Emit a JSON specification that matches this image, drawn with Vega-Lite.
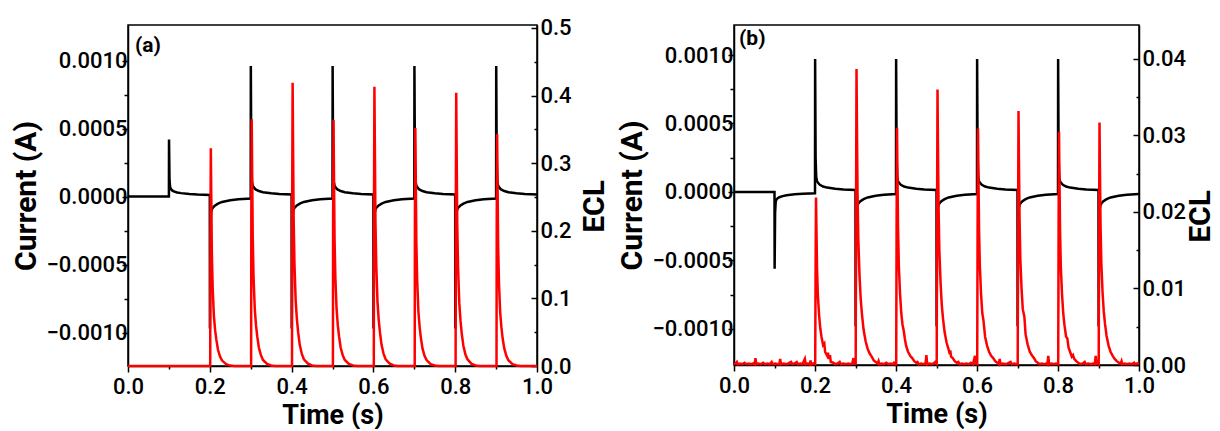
{
"$schema": "https://vega.github.io/schema/vega-lite/v6.json",
"padding": {"left": 11, "top": 16, "right": 0, "bottom": 0},
"config": {
  "font": "Roboto",
  "view": {"stroke": "black", "strokeWidth": 1.5},
  "axis": {"grid": false, "domainColor": "black", "domainWidth": 1.5, "tickColor": "black", "tickWidth": 1.5,
           "labelFont": "Roboto", "labelFontSize": 22, "labelFontWeight": 500, "labelColor": "black", "labelOverlap": false, "labelFlush": false,
           "titleFont": "Roboto", "titleFontSize": 30, "titleFontWeight": "bold", "titleColor": "black"}
},
"datasets": {
"a_cur": [
{"t":0,"v":0},{"t":0.1,"v":0},{"t":0.1003,"v":0.00042},{"t":0.1015,"v":0.00012},{"t":0.103,"v":0.00007},{"t":0.105,"v":0.000055},{"t":0.108,"v":0.000045},{"t":0.112,"v":0.000038},{"t":0.12,"v":0.00003},{"t":0.13,"v":0.000025},{"t":0.15,"v":0.000018},{"t":0.17,"v":0.000014},{"t":0.2,"v":0.000011},
{"t":0.2003,"v":-0.00097},{"t":0.2015,"v":-0.00025},{"t":0.203,"v":-0.00012},{"t":0.205,"v":-0.000095},{"t":0.208,"v":-0.00008},{"t":0.212,"v":-0.000068},{"t":0.22,"v":-0.000052},{"t":0.23,"v":-0.00004},{"t":0.25,"v":-0.000028},{"t":0.27,"v":-0.00002},{"t":0.3,"v":-0.000015},
{"t":0.3003,"v":0.00096},{"t":0.3015,"v":0.00025},{"t":0.303,"v":0.00011},{"t":0.305,"v":0.00008},{"t":0.308,"v":0.000065},{"t":0.312,"v":0.000052},{"t":0.32,"v":0.00004},{"t":0.33,"v":0.000032},{"t":0.35,"v":0.000024},{"t":0.37,"v":0.000019},{"t":0.4,"v":0.000015},
{"t":0.4003,"v":-0.00097},{"t":0.4015,"v":-0.00025},{"t":0.403,"v":-0.00012},{"t":0.405,"v":-0.000095},{"t":0.408,"v":-0.00008},{"t":0.412,"v":-0.000068},{"t":0.42,"v":-0.000052},{"t":0.43,"v":-0.00004},{"t":0.45,"v":-0.000028},{"t":0.47,"v":-0.00002},{"t":0.5,"v":-0.000015},
{"t":0.5003,"v":0.00096},{"t":0.5015,"v":0.00025},{"t":0.503,"v":0.00011},{"t":0.505,"v":0.00008},{"t":0.508,"v":0.000065},{"t":0.512,"v":0.000052},{"t":0.52,"v":0.00004},{"t":0.53,"v":0.000032},{"t":0.55,"v":0.000024},{"t":0.57,"v":0.000019},{"t":0.6,"v":0.000015},
{"t":0.6003,"v":-0.00097},{"t":0.6015,"v":-0.00025},{"t":0.603,"v":-0.00012},{"t":0.605,"v":-0.000095},{"t":0.608,"v":-0.00008},{"t":0.612,"v":-0.000068},{"t":0.62,"v":-0.000052},{"t":0.63,"v":-0.00004},{"t":0.65,"v":-0.000028},{"t":0.67,"v":-0.00002},{"t":0.7,"v":-0.000015},
{"t":0.7003,"v":0.00096},{"t":0.7015,"v":0.00025},{"t":0.703,"v":0.00011},{"t":0.705,"v":0.00008},{"t":0.708,"v":0.000065},{"t":0.712,"v":0.000052},{"t":0.72,"v":0.00004},{"t":0.73,"v":0.000032},{"t":0.75,"v":0.000024},{"t":0.77,"v":0.000019},{"t":0.8,"v":0.000015},
{"t":0.8003,"v":-0.00097},{"t":0.8015,"v":-0.00025},{"t":0.803,"v":-0.00012},{"t":0.805,"v":-0.000095},{"t":0.808,"v":-0.00008},{"t":0.812,"v":-0.000068},{"t":0.82,"v":-0.000052},{"t":0.83,"v":-0.00004},{"t":0.85,"v":-0.000028},{"t":0.87,"v":-0.00002},{"t":0.9,"v":-0.000015},
{"t":0.9003,"v":0.00096},{"t":0.9015,"v":0.00025},{"t":0.903,"v":0.00011},{"t":0.905,"v":0.00008},{"t":0.908,"v":0.000065},{"t":0.912,"v":0.000052},{"t":0.92,"v":0.00004},{"t":0.93,"v":0.000032},{"t":0.95,"v":0.000024},{"t":0.97,"v":0.000019},{"t":1.0,"v":0.000015}
],
"a_ecl": [
{"t":0,"v":0},
{"t":0.201,"v":0},{"t":0.2015,"v":0.193},{"t":0.2025,"v":0.322},{"t":0.2035,"v":0.258},{"t":0.205,"v":0.167},{"t":0.207,"v":0.116},{"t":0.21,"v":0.074},{"t":0.213,"v":0.053},{"t":0.216,"v":0.039},{"t":0.22,"v":0.024},{"t":0.225,"v":0.014},{"t":0.23,"v":0.008},{"t":0.24,"v":0.0026},{"t":0.25,"v":0.0006},{"t":0.26,"v":0},
{"t":0.301,"v":0},{"t":0.3015,"v":0.219},{"t":0.3025,"v":0.365},{"t":0.3035,"v":0.292},{"t":0.305,"v":0.19},{"t":0.307,"v":0.131},{"t":0.31,"v":0.084},{"t":0.313,"v":0.06},{"t":0.316,"v":0.044},{"t":0.32,"v":0.027},{"t":0.325,"v":0.016},{"t":0.33,"v":0.009},{"t":0.34,"v":0.003},{"t":0.35,"v":0.0007},{"t":0.36,"v":0},
{"t":0.401,"v":0},{"t":0.4015,"v":0.251},{"t":0.4025,"v":0.419},{"t":0.4035,"v":0.335},{"t":0.405,"v":0.218},{"t":0.407,"v":0.151},{"t":0.41,"v":0.096},{"t":0.413,"v":0.069},{"t":0.416,"v":0.05},{"t":0.42,"v":0.031},{"t":0.425,"v":0.018},{"t":0.43,"v":0.01},{"t":0.44,"v":0.0034},{"t":0.45,"v":0.0008},{"t":0.46,"v":0},
{"t":0.501,"v":0},{"t":0.5015,"v":0.218},{"t":0.5025,"v":0.364},{"t":0.5035,"v":0.291},{"t":0.505,"v":0.189},{"t":0.507,"v":0.131},{"t":0.51,"v":0.084},{"t":0.513,"v":0.06},{"t":0.516,"v":0.044},{"t":0.52,"v":0.027},{"t":0.525,"v":0.016},{"t":0.53,"v":0.009},{"t":0.54,"v":0.003},{"t":0.55,"v":0.0007},{"t":0.56,"v":0},
{"t":0.601,"v":0},{"t":0.6015,"v":0.248},{"t":0.6025,"v":0.413},{"t":0.6035,"v":0.33},{"t":0.605,"v":0.215},{"t":0.607,"v":0.149},{"t":0.61,"v":0.095},{"t":0.613,"v":0.068},{"t":0.616,"v":0.05},{"t":0.62,"v":0.031},{"t":0.625,"v":0.018},{"t":0.63,"v":0.01},{"t":0.64,"v":0.0033},{"t":0.65,"v":0.0008},{"t":0.66,"v":0},
{"t":0.701,"v":0},{"t":0.7015,"v":0.211},{"t":0.7025,"v":0.352},{"t":0.7035,"v":0.282},{"t":0.705,"v":0.183},{"t":0.707,"v":0.127},{"t":0.71,"v":0.081},{"t":0.713,"v":0.058},{"t":0.716,"v":0.042},{"t":0.72,"v":0.026},{"t":0.725,"v":0.015},{"t":0.73,"v":0.0088},{"t":0.74,"v":0.0028},{"t":0.75,"v":0.0007},{"t":0.76,"v":0},
{"t":0.801,"v":0},{"t":0.8015,"v":0.242},{"t":0.8025,"v":0.404},{"t":0.8035,"v":0.323},{"t":0.805,"v":0.21},{"t":0.807,"v":0.145},{"t":0.81,"v":0.093},{"t":0.813,"v":0.067},{"t":0.816,"v":0.048},{"t":0.82,"v":0.03},{"t":0.825,"v":0.017},{"t":0.83,"v":0.01},{"t":0.84,"v":0.0032},{"t":0.85,"v":0.0008},{"t":0.86,"v":0},
{"t":0.901,"v":0},{"t":0.9015,"v":0.206},{"t":0.9025,"v":0.343},{"t":0.9035,"v":0.274},{"t":0.905,"v":0.178},{"t":0.907,"v":0.123},{"t":0.91,"v":0.079},{"t":0.913,"v":0.057},{"t":0.916,"v":0.041},{"t":0.92,"v":0.026},{"t":0.925,"v":0.015},{"t":0.93,"v":0.0086},{"t":0.94,"v":0.0027},{"t":0.95,"v":0.0007},{"t":0.96,"v":0},
{"t":1.0,"v":0}
],
"b_cur": [
{"t":0,"v":0},{"t":0.1,"v":0},{"t":0.1003,"v":-0.00056},{"t":0.1015,"v":-0.00015},{"t":0.103,"v":-0.00007},{"t":0.105,"v":-0.000055},{"t":0.108,"v":-0.000045},{"t":0.112,"v":-0.000038},{"t":0.12,"v":-0.00003},{"t":0.13,"v":-0.000024},{"t":0.15,"v":-0.000017},{"t":0.17,"v":-0.000013},{"t":0.2,"v":-0.00001},
{"t":0.2003,"v":0.00097},{"t":0.2015,"v":0.00025},{"t":0.203,"v":0.00011},{"t":0.205,"v":0.00008},{"t":0.208,"v":0.000065},{"t":0.212,"v":0.000052},{"t":0.22,"v":0.00004},{"t":0.23,"v":0.000032},{"t":0.25,"v":0.000024},{"t":0.27,"v":0.000019},{"t":0.3,"v":0.000015},
{"t":0.3003,"v":-0.00098},{"t":0.3015,"v":-0.00025},{"t":0.303,"v":-0.00012},{"t":0.305,"v":-0.000095},{"t":0.308,"v":-0.00008},{"t":0.312,"v":-0.000068},{"t":0.32,"v":-0.000052},{"t":0.33,"v":-0.00004},{"t":0.35,"v":-0.000028},{"t":0.37,"v":-0.00002},{"t":0.4,"v":-0.000015},
{"t":0.4003,"v":0.00097},{"t":0.4015,"v":0.00025},{"t":0.403,"v":0.00011},{"t":0.405,"v":0.00008},{"t":0.408,"v":0.000065},{"t":0.412,"v":0.000052},{"t":0.42,"v":0.00004},{"t":0.43,"v":0.000032},{"t":0.45,"v":0.000024},{"t":0.47,"v":0.000019},{"t":0.5,"v":0.000015},
{"t":0.5003,"v":-0.00098},{"t":0.5015,"v":-0.00025},{"t":0.503,"v":-0.00012},{"t":0.505,"v":-0.000095},{"t":0.508,"v":-0.00008},{"t":0.512,"v":-0.000068},{"t":0.52,"v":-0.000052},{"t":0.53,"v":-0.00004},{"t":0.55,"v":-0.000028},{"t":0.57,"v":-0.00002},{"t":0.6,"v":-0.000015},
{"t":0.6003,"v":0.00097},{"t":0.6015,"v":0.00025},{"t":0.603,"v":0.00011},{"t":0.605,"v":0.00008},{"t":0.608,"v":0.000065},{"t":0.612,"v":0.000052},{"t":0.62,"v":0.00004},{"t":0.63,"v":0.000032},{"t":0.65,"v":0.000024},{"t":0.67,"v":0.000019},{"t":0.7,"v":0.000015},
{"t":0.7003,"v":-0.00098},{"t":0.7015,"v":-0.00025},{"t":0.703,"v":-0.00012},{"t":0.705,"v":-0.000095},{"t":0.708,"v":-0.00008},{"t":0.712,"v":-0.000068},{"t":0.72,"v":-0.000052},{"t":0.73,"v":-0.00004},{"t":0.75,"v":-0.000028},{"t":0.77,"v":-0.00002},{"t":0.8,"v":-0.000015},
{"t":0.8003,"v":0.00097},{"t":0.8015,"v":0.00025},{"t":0.803,"v":0.00011},{"t":0.805,"v":0.00008},{"t":0.808,"v":0.000065},{"t":0.812,"v":0.000052},{"t":0.82,"v":0.00004},{"t":0.83,"v":0.000032},{"t":0.85,"v":0.000024},{"t":0.87,"v":0.000019},{"t":0.9,"v":0.000015},
{"t":0.9003,"v":-0.00098},{"t":0.9015,"v":-0.00025},{"t":0.903,"v":-0.00012},{"t":0.905,"v":-0.000095},{"t":0.908,"v":-0.00008},{"t":0.912,"v":-0.000068},{"t":0.92,"v":-0.000052},{"t":0.93,"v":-0.00004},{"t":0.95,"v":-0.000028},{"t":0.97,"v":-0.00002},{"t":1.0,"v":-0.000015}
],
"b_ecl": [
{"t":0,"v":0.0001},{"t":0.004,"v":0.0002},{"t":0.007,"v":0.0004},{"t":0.009,"v":0.0001},{"t":0.015,"v":0.0002},{"t":0.02,"v":0.0001},{"t":0.026,"v":0.0003},{"t":0.03,"v":0.0001},{"t":0.037,"v":0.0002},{"t":0.042,"v":0.0001},{"t":0.048,"v":0.0002},{"t":0.051,"v":0.0001},{"t":0.053,"v":0.0009},{"t":0.055,"v":0.0001},{"t":0.06,"v":0.0002},{"t":0.066,"v":0.0001},{"t":0.072,"v":0.0003},{"t":0.077,"v":0.0001},{"t":0.083,"v":0.0002},{"t":0.088,"v":0.0001},{"t":0.093,"v":0.0004},{"t":0.096,"v":0.0001},{"t":0.102,"v":0.0002},{"t":0.108,"v":0.0001},{"t":0.112,"v":0.0001},{"t":0.114,"v":0.0008},{"t":0.116,"v":0.0001},{"t":0.122,"v":0.0002},{"t":0.128,"v":0.0001},{"t":0.134,"v":0.0002},{"t":0.141,"v":0.0004},{"t":0.144,"v":0.0001},{"t":0.149,"v":0.0002},{"t":0.155,"v":0.0004},{"t":0.158,"v":0.0001},{"t":0.164,"v":0.0002},{"t":0.169,"v":0.0001},{"t":0.175,"v":0.0008},{"t":0.177,"v":0.0001},{"t":0.182,"v":0.0002},{"t":0.187,"v":0.0001},{"t":0.189,"v":0.0006},{"t":0.191,"v":0.0001},{"t":0.196,"v":0.0002},
{"t":0.2005,"v":0.0001},{"t":0.2015,"v":0.0131},{"t":0.2025,"v":0.0219},{"t":0.2035,"v":0.018},{"t":0.205,"v":0.0127},{"t":0.207,"v":0.0092},{"t":0.21,"v":0.0066},{"t":0.213,"v":0.0048},{"t":0.216,"v":0.0037},{"t":0.22,"v":0.0026},{"t":0.223,"v":0.0028},{"t":0.225,"v":0.0017},{"t":0.228,"v":0.0014},{"t":0.23,"v":0.0012},{"t":0.232,"v":0.0016},{"t":0.234,"v":0.0008},{"t":0.237,"v":0.0013},{"t":0.239,"v":0.0004},{"t":0.245,"v":0.0003},{"t":0.25,"v":0.0001},{"t":0.256,"v":0.0002},{"t":0.261,"v":0.0004},{"t":0.264,"v":0.0001},{"t":0.27,"v":0.0002},{"t":0.276,"v":0.0001},{"t":0.282,"v":0.0002},{"t":0.287,"v":0.0001},{"t":0.292,"v":0.0002},{"t":0.295,"v":0.0009},{"t":0.297,"v":0.0002},
{"t":0.3005,"v":0.0002},{"t":0.3015,"v":0.0232},{"t":0.3025,"v":0.0387},{"t":0.3035,"v":0.0317},{"t":0.305,"v":0.0224},{"t":0.307,"v":0.0163},{"t":0.31,"v":0.0116},{"t":0.313,"v":0.0085},{"t":0.316,"v":0.0066},{"t":0.32,"v":0.0046},{"t":0.325,"v":0.0031},{"t":0.33,"v":0.0021},{"t":0.335,"v":0.0015},{"t":0.34,"v":0.0011},{"t":0.345,"v":0.0006},{"t":0.35,"v":0.0004},{"t":0.355,"v":0.0002},{"t":0.357,"v":0.0005},{"t":0.359,"v":0.0001},{"t":0.365,"v":0.0002},{"t":0.37,"v":0.0001},{"t":0.376,"v":0.0003},{"t":0.381,"v":0.0001},{"t":0.387,"v":0.0002},{"t":0.392,"v":0.0001},{"t":0.395,"v":0.0003},{"t":0.398,"v":0.0001},
{"t":0.4005,"v":0.0001},{"t":0.4015,"v":0.0186},{"t":0.4025,"v":0.031},{"t":0.4035,"v":0.0254},{"t":0.405,"v":0.018},{"t":0.407,"v":0.013},{"t":0.41,"v":0.0093},{"t":0.413,"v":0.0068},{"t":0.416,"v":0.0053},{"t":0.419,"v":0.0045},{"t":0.422,"v":0.0034},{"t":0.425,"v":0.0025},{"t":0.43,"v":0.0017},{"t":0.435,"v":0.0012},{"t":0.44,"v":0.0009},{"t":0.445,"v":0.0005},{"t":0.45,"v":0.0003},{"t":0.453,"v":0.0004},{"t":0.456,"v":0.0001},{"t":0.462,"v":0.0002},{"t":0.467,"v":0.0001},{"t":0.473,"v":0.0002},{"t":0.475,"v":0.0013},{"t":0.477,"v":0.0001},{"t":0.483,"v":0.0002},{"t":0.488,"v":0.0001},{"t":0.493,"v":0.0002},{"t":0.497,"v":0.0004},
{"t":0.5005,"v":0.0002},{"t":0.5015,"v":0.0216},{"t":0.5025,"v":0.036},{"t":0.5035,"v":0.0295},{"t":0.505,"v":0.0209},{"t":0.507,"v":0.0151},{"t":0.51,"v":0.0108},{"t":0.513,"v":0.0079},{"t":0.516,"v":0.0061},{"t":0.52,"v":0.0043},{"t":0.525,"v":0.0029},{"t":0.53,"v":0.002},{"t":0.533,"v":0.0014},{"t":0.534,"v":0.0019},{"t":0.536,"v":0.0011},{"t":0.54,"v":0.0009},{"t":0.545,"v":0.0005},{"t":0.55,"v":0.0003},{"t":0.554,"v":0.0004},{"t":0.557,"v":0.0001},{"t":0.563,"v":0.0002},{"t":0.568,"v":0.0001},{"t":0.574,"v":0.0002},{"t":0.58,"v":0.0001},{"t":0.585,"v":0.0003},{"t":0.59,"v":0.0001},{"t":0.595,"v":0.0012},{"t":0.597,"v":0.0002},
{"t":0.6005,"v":0.0001},{"t":0.6015,"v":0.0185},{"t":0.6025,"v":0.0309},{"t":0.6035,"v":0.0253},{"t":0.605,"v":0.0179},{"t":0.607,"v":0.013},{"t":0.61,"v":0.0093},{"t":0.613,"v":0.0068},{"t":0.616,"v":0.0058},{"t":0.62,"v":0.0037},{"t":0.625,"v":0.0025},{"t":0.63,"v":0.0017},{"t":0.635,"v":0.0012},{"t":0.64,"v":0.0009},{"t":0.645,"v":0.0005},{"t":0.65,"v":0.0003},{"t":0.654,"v":0.0001},{"t":0.656,"v":0.0008},{"t":0.658,"v":0.0001},{"t":0.664,"v":0.0002},{"t":0.67,"v":0.0001},{"t":0.676,"v":0.0002},{"t":0.683,"v":0.0004},{"t":0.686,"v":0.0001},{"t":0.692,"v":0.0002},{"t":0.697,"v":0.0001},
{"t":0.7005,"v":0.0001},{"t":0.7015,"v":0.0199},{"t":0.7025,"v":0.0332},{"t":0.7035,"v":0.0272},{"t":0.705,"v":0.0193},{"t":0.707,"v":0.0139},{"t":0.71,"v":0.01},{"t":0.713,"v":0.0073},{"t":0.717,"v":0.0063},{"t":0.72,"v":0.004},{"t":0.725,"v":0.0027},{"t":0.73,"v":0.0018},{"t":0.735,"v":0.0013},{"t":0.741,"v":0.0009},{"t":0.745,"v":0.0005},{"t":0.75,"v":0.0003},{"t":0.755,"v":0.0001},{"t":0.76,"v":0.0002},{"t":0.766,"v":0.0001},{"t":0.772,"v":0.0002},{"t":0.774,"v":0.0001},{"t":0.776,"v":0.0012},{"t":0.778,"v":0.0001},{"t":0.784,"v":0.0002},{"t":0.79,"v":0.0001},{"t":0.795,"v":0.0002},
{"t":0.8005,"v":0.0001},{"t":0.8015,"v":0.0183},{"t":0.8025,"v":0.0305},{"t":0.8035,"v":0.025},{"t":0.805,"v":0.0177},{"t":0.807,"v":0.0128},{"t":0.81,"v":0.0092},{"t":0.813,"v":0.0067},{"t":0.816,"v":0.0052},{"t":0.82,"v":0.0037},{"t":0.823,"v":0.0035},{"t":0.826,"v":0.0023},{"t":0.83,"v":0.0017},{"t":0.834,"v":0.0011},{"t":0.837,"v":0.0013},{"t":0.84,"v":0.0008},{"t":0.845,"v":0.0005},{"t":0.85,"v":0.0003},{"t":0.855,"v":0.0001},{"t":0.861,"v":0.0002},{"t":0.866,"v":0.0004},{"t":0.869,"v":0.0001},{"t":0.875,"v":0.0002},{"t":0.881,"v":0.0001},{"t":0.887,"v":0.0002},{"t":0.891,"v":0.0001},{"t":0.893,"v":0.0012},{"t":0.895,"v":0.0002},
{"t":0.9005,"v":0.0001},{"t":0.9015,"v":0.019},{"t":0.9025,"v":0.0317},{"t":0.9035,"v":0.026},{"t":0.905,"v":0.0184},{"t":0.907,"v":0.0133},{"t":0.91,"v":0.0095},{"t":0.913,"v":0.007},{"t":0.916,"v":0.0054},{"t":0.92,"v":0.0038},{"t":0.925,"v":0.0025},{"t":0.93,"v":0.0017},{"t":0.935,"v":0.0012},{"t":0.94,"v":0.0008},{"t":0.945,"v":0.0005},{"t":0.95,"v":0.0003},{"t":0.955,"v":0.0002},{"t":0.957,"v":0.0005},{"t":0.959,"v":0.0001},{"t":0.965,"v":0.0002},{"t":0.97,"v":0.0001},{"t":0.976,"v":0.0002},{"t":0.982,"v":0.0001},{"t":0.988,"v":0.0003},{"t":0.991,"v":0.0001},{"t":0.996,"v":0.0002},{"t":1.0,"v":0.0001}
]
},
"spacing": 7,
"hconcat": [
{
  "width": 409, "height": 341,
  "title": {"text": "(a)", "anchor": "start", "frame": "group", "offset": -39, "dx": 7, "fontSize": 21, "fontWeight": "bold", "font": "Roboto", "color": "black"},
  "encoding": {"x": {"field": "t", "type": "quantitative", "scale": {"domain": [0, 1], "nice": false, "zero": false},
    "axis": {"title": "Time (s)", "titleFontSize": 27, "values": [0,0.1,0.2,0.3,0.4,0.5,0.6,0.7,0.8,0.9,1], "format": ".1f",
      "labelExpr": "round(datum.value*10) % 2 == 0 ? datum.label : ''",
      "tickSize": {"condition": {"test": "round(datum.value*10) % 2 == 0", "value": 6}, "value": 3},
      "labelPadding": 4, "titlePadding": 5}}},
  "layer": [
    {"data": {"name": "a_cur"}, "mark": {"type": "line", "color": "black", "strokeWidth": 2.5},
     "encoding": {"y": {"field": "v", "type": "quantitative", "scale": {"domain": [-0.001246, 0.001261], "nice": false, "zero": false},
       "axis": {"orient": "left", "title": "Current (A)", "values": [-0.001,-0.00075,-0.0005,-0.00025,0,0.00025,0.0005,0.00075,0.001], "format": ".4f",
         "labelExpr": "abs(round(datum.value*4000)) % 2 == 0 ? datum.label : ''",
         "tickSize": {"condition": {"test": "abs(round(datum.value*4000)) % 2 == 0", "value": 6}, "value": 4},
         "labelPadding": -5, "titlePadding": 4}}}},
    {"data": {"name": "a_ecl"}, "mark": {"type": "line", "color": "#ff0000", "strokeWidth": 2.5},
     "encoding": {"y": {"field": "v", "type": "quantitative", "scale": {"domain": [0, 0.5044], "nice": false, "zero": false},
       "axis": {"orient": "right", "title": "ECL", "titleAngle": 270, "titleBaseline": "top", "titleY": 181, "values": [0,0.05,0.1,0.15,0.2,0.25,0.3,0.35,0.4,0.45,0.5], "format": ".1f",
         "labelExpr": "round(datum.value*20) % 2 == 0 ? datum.label : ''",
         "tickSize": {"condition": {"test": "round(datum.value*20) % 2 == 0", "value": -6}, "value": -3},
         "labelPadding": 9, "titlePadding": 8}}}}
  ],
  "resolve": {"scale": {"y": "independent"}}
},
{
  "width": 405, "height": 340,
  "title": {"text": "(b)", "anchor": "start", "frame": "group", "offset": -24, "dx": 5, "fontSize": 21, "fontWeight": "bold", "font": "Roboto", "color": "black"},
  "encoding": {"x": {"field": "t", "type": "quantitative", "scale": {"domain": [0, 1], "nice": false, "zero": false},
    "axis": {"title": "Time (s)", "titleFontSize": 27, "values": [0,0.1,0.2,0.3,0.4,0.5,0.6,0.7,0.8,0.9,1], "format": ".1f",
      "labelExpr": "round(datum.value*10) % 2 == 0 ? datum.label : ''",
      "tickSize": {"condition": {"test": "round(datum.value*10) % 2 == 0", "value": 6}, "value": 3},
      "labelPadding": 4, "titlePadding": 5}}},
  "layer": [
    {"data": {"name": "b_cur"}, "mark": {"type": "line", "color": "black", "strokeWidth": 2.5},
     "encoding": {"y": {"field": "v", "type": "quantitative", "scale": {"domain": [-0.001263, 0.001219], "nice": false, "zero": false},
       "axis": {"orient": "left", "title": "Current (A)", "values": [-0.001,-0.00075,-0.0005,-0.00025,0,0.00025,0.0005,0.00075,0.001], "format": ".4f",
         "labelExpr": "abs(round(datum.value*4000)) % 2 == 0 ? datum.label : ''",
         "tickSize": {"condition": {"test": "abs(round(datum.value*4000)) % 2 == 0", "value": 6}, "value": 4},
         "labelPadding": -5, "titlePadding": 4}}}},
    {"data": {"name": "b_ecl"}, "mark": {"type": "line", "color": "#ff0000", "strokeWidth": 2.5},
     "encoding": {"y": {"field": "v", "type": "quantitative", "scale": {"domain": [0, 0.04444], "nice": false, "zero": false},
       "axis": {"orient": "right", "title": "ECL", "titleAngle": 270, "titleBaseline": "top", "titleY": 191, "values": [0,0.005,0.01,0.015,0.02,0.025,0.03,0.035,0.04], "format": ".2f",
         "labelExpr": "round(datum.value*200) % 2 == 0 ? datum.label : ''",
         "tickSize": {"condition": {"test": "round(datum.value*200) % 2 == 0", "value": -6}, "value": -3},
         "labelPadding": 9, "titlePadding": 0}}}}
  ],
  "resolve": {"scale": {"y": "independent"}}
}
]
}
